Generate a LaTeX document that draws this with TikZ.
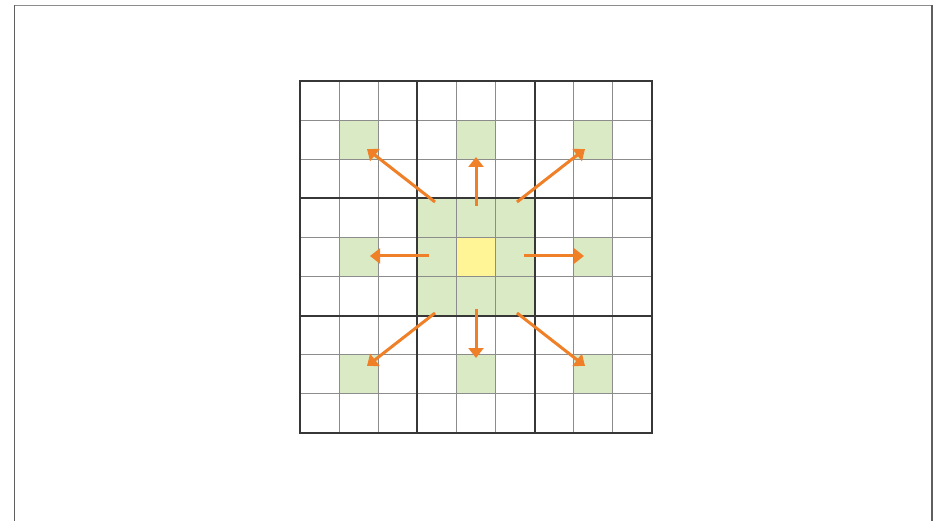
\documentclass[tikz,border=0pt]{standalone}
\usetikzlibrary{arrows.meta}
\definecolor{cellgreen}{RGB}{217,234,196}
\definecolor{cellyellow}{RGB}{255,245,150}
\definecolor{arroworange}{RGB}{240,128,40}
\definecolor{thingray}{RGB}{140,140,140}
\definecolor{thickgray}{RGB}{55,55,55}
\tikzset{
  cellfill/.style={fill=cellgreen},
  thinline/.style={draw=thingray, line width=0.9pt},
  thickline/.style={draw=thickgray, line width=1.8pt},
  spread/.style={draw=arroworange, line width=3pt, -{Triangle[width=15pt,length=10pt]}},
}
\begin{document}
\begin{tikzpicture}[x=1pt,y=-1pt]
\useasboundingbox (0,0) rectangle (939,521);
% frame
\draw[draw=thingray, line width=1.5pt] (14,5.5) -- (932.5,5.5);
\draw[draw=thickgray!80, line width=1.5pt] (14.5,5) -- (14.5,521);
\draw[draw=thickgray!80, line width=1.5pt] (932,5) -- (932,521);
\def\gx{300}\def\gy{81}\def\cs{39.1}
% green cells
\foreach \c/\r in {1/1,4/1,7/1,1/4,7/4,1/7,4/7,7/7}{
  \fill[cellgreen] (\gx+\c*\cs,\gy+\r*\cs) rectangle ++(\cs,\cs);
}
\fill[cellgreen] (\gx+3*\cs,\gy+3*\cs) rectangle ++(3*\cs,3*\cs);
\fill[cellyellow] (\gx+4*\cs,\gy+4*\cs) rectangle ++(\cs,\cs);
% thin lines
\foreach \i in {1,2,4,5,7,8}{
  \draw[thinline] (\gx+\i*\cs,\gy) -- (\gx+\i*\cs,\gy+9*\cs);
  \draw[thinline] (\gx,\gy+\i*\cs) -- (\gx+9*\cs,\gy+\i*\cs);
}
% thick lines
\foreach \i in {0,3,6,9}{
  \draw[thickline] (\gx+\i*\cs,\gy) -- (\gx+\i*\cs,\gy+9*\cs);
  \draw[thickline] (\gx,\gy+\i*\cs) -- (\gx+9*\cs,\gy+\i*\cs);
}
\draw[thickline] (\gx-0.9,\gy) -- (\gx+9*\cs+0.9,\gy);
\draw[thickline] (\gx-0.9,\gy+9*\cs) -- (\gx+9*\cs+0.9,\gy+9*\cs);
% arrow coordinates
\coordinate (us) at (476,206); \coordinate (ue) at (476,157);
\coordinate (uls) at (435,202); \coordinate (ule) at (367,149);
\coordinate (urs) at (517,202); \coordinate (ure) at (585,149);
\coordinate (ls) at (429,256); \coordinate (le) at (370,256);
\coordinate (rs) at (524,256); \coordinate (re) at (584,256);
\coordinate (ds) at (476,309); \coordinate (de) at (476,358);
\coordinate (lls) at (435,313); \coordinate (lle) at (367,366);
\coordinate (lrs) at (517,313); \coordinate (lre) at (585,366);
\foreach \a/\b in {us/ue,uls/ule,urs/ure,ls/le,rs/re,ds/de,lls/lle,lrs/lre}{
  \draw[spread] (\a) -- (\b);
}
\end{tikzpicture}
\end{document}
